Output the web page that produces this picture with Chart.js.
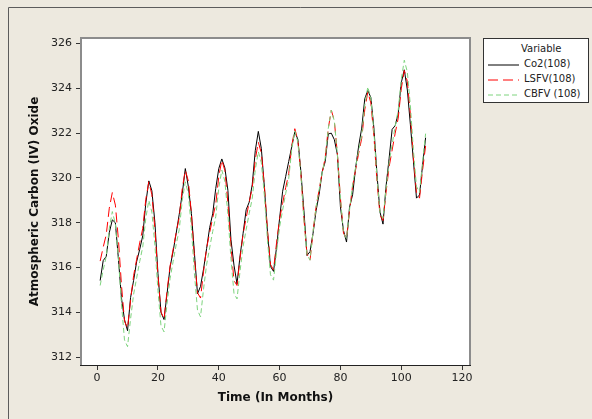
<!DOCTYPE html>
<html>
<head>
<meta charset="utf-8">
<script src="https://cdn.jsdelivr.net/npm/chart.js@4.4.0/dist/chart.umd.min.js"></script>
<style>
  html, body { margin: 0; padding: 0; background: #EDE9DF; }
  #wrap { position: relative; width: 592px; height: 419px; overflow: hidden; }
  #co2-chart { position: absolute; left: 0; top: 0; }
  #legend {
    position: absolute; left: 483px; top: 38px; width: 104px; height: 63px;
    background: #fff; border: 1px solid #333;
    font-family: "DejaVu Sans", sans-serif; font-size: 10px; color: #222;
  }
  #legend .title { position: absolute; left: 37px; top: 4px; line-height: 12px; }
  #legend .row { position: absolute; left: 4px; height: 14px; line-height: 14px; white-space: nowrap; }
  #legend svg { position: absolute; left: 0; top: 7px; }
  #legend .row span { position: absolute; left: 36px; top: 0; }
</style>
</head>
<body>
<div id="wrap">
  <canvas id="co2-chart" width="592" height="419"></canvas>
  <div id="legend"></div>
</div>
<script>
// Monthly series, months 1..108
const co2 = [
  315.42, 316.31, 316.50, 317.56, 318.13, 318.00, 316.39, 314.65, 313.68, 313.18, 314.66, 315.43,
  316.27, 316.81, 317.42, 318.87, 319.87, 319.43, 318.01, 315.74, 314.00, 313.68, 314.84, 316.03,
  316.73, 317.54, 318.38, 319.31, 320.42, 319.61, 318.42, 316.63, 314.83, 315.16, 315.94, 316.85,
  317.78, 318.40, 319.53, 320.42, 320.85, 320.45, 319.45, 317.25, 316.11, 315.27, 316.53, 317.53,
  318.58, 318.92, 319.70, 321.22, 322.08, 321.31, 319.58, 317.61, 316.05, 315.83, 316.91, 318.20,
  319.41, 320.07, 320.74, 321.40, 322.06, 321.73, 320.27, 318.54, 316.54, 316.71, 317.53, 318.55,
  319.27, 320.28, 320.73, 321.97, 322.00, 321.71, 321.05, 318.71, 317.66, 317.14, 318.70, 319.25,
  320.46, 321.43, 322.23, 323.54, 323.91, 323.59, 322.24, 320.20, 318.48, 317.94, 319.63, 320.87,
  322.17, 322.34, 322.88, 324.25, 324.83, 323.93, 322.38, 320.76, 319.10, 319.24, 320.56, 321.80
];

const lsfv = [
  316.29, 316.91, 317.47, 318.65, 319.35, 318.79, 317.26, 315.23, 313.61, 313.30, 314.54, 315.64,
  316.37, 317.10, 317.75, 319.04, 319.83, 319.26, 317.71, 315.66, 314.02, 313.70, 314.96, 316.07,
  316.82, 317.56, 318.24, 319.54, 320.35, 319.86, 318.40, 316.43, 314.88, 314.64, 315.83, 316.87,
  317.55, 318.22, 318.83, 320.06, 320.80, 320.33, 318.89, 316.95, 315.42, 315.20, 316.43, 317.50,
  318.22, 318.92, 319.56, 320.82, 321.60, 321.11, 319.65, 317.69, 316.14, 315.90, 317.11, 318.17,
  318.87, 319.57, 320.19, 321.44, 322.20, 321.68, 320.19, 318.18, 316.60, 316.33, 317.60, 318.72,
  319.48, 320.23, 320.91, 322.21, 323.03, 322.54, 321.07, 319.10, 317.54, 317.30, 318.55, 319.64,
  320.38, 321.11, 321.77, 323.05, 323.85, 323.35, 321.88, 319.91, 318.35, 318.10, 319.37, 320.49,
  321.25, 322.00, 322.67, 323.98, 324.80, 324.31, 322.85, 320.89, 319.34, 319.10, 320.34, 321.43
];

const cbfv = [
  315.20, 315.89, 316.50, 317.75, 318.50, 317.95, 316.42, 314.39, 312.77, 312.47, 313.71, 314.81,
  315.54, 316.27, 316.92, 318.20, 319.00, 318.48, 316.99, 314.98, 313.40, 313.13, 314.40, 315.52,
  316.28, 317.03, 317.70, 319.01, 319.83, 319.28, 317.75, 315.72, 314.10, 313.80, 315.05, 316.14,
  316.88, 317.61, 318.27, 319.55, 320.35, 319.85, 318.38, 316.41, 314.85, 314.60, 315.85, 316.95,
  317.69, 318.42, 319.08, 320.37, 321.17, 320.68, 319.21, 317.24, 315.68, 315.44, 316.70, 317.82,
  318.57, 319.31, 319.98, 321.29, 322.10, 321.60, 320.13, 318.14, 316.58, 316.33, 317.60, 318.72,
  319.48, 320.23, 320.90, 322.21, 323.03, 322.54, 321.07, 319.10, 317.54, 317.30, 318.58, 319.71,
  320.48, 321.23, 321.92, 323.24, 324.07, 323.55, 322.06, 320.05, 318.47, 318.20, 319.52, 320.69,
  321.50, 322.30, 323.03, 324.39, 325.26, 324.73, 323.23, 321.22, 319.63, 319.35, 320.71, 321.98
];

const months = co2.map((_, i) => i + 1);
const xTicks = [0, 20, 40, 60, 80, 100, 120];
const yTicks = [312, 314, 316, 318, 320, 322, 324, 326];

const seriesNames = ['Co2(108)', 'LSFV(108)', 'CBFV (108)'];
const seriesColors = ['#000000', '#FF0000', '#7ED47E'];
const seriesDash = [[], [10, 5], [5, 3]];

let co2Chart = null;

const framePlugin = {
  id: 'frame',
  beforeDraw(chart) {
    const { ctx, chartArea: a } = chart;
    ctx.save();
    ctx.fillStyle = '#EDE9DF';
    ctx.fillRect(0, 0, chart.width, chart.height);
    // window edge at top / left
    ctx.strokeStyle = '#5c5c5c';
    ctx.lineWidth = 1;
    ctx.beginPath();
    ctx.moveTo(8.5, chart.height);
    ctx.lineTo(8.5, 7.5);
    ctx.lineTo(chart.width, 7.5);
    ctx.stroke();
    ctx.fillStyle = '#ffffff';
    ctx.fillRect(a.left, a.top, a.right - a.left, a.bottom - a.top);
    ctx.restore();
  },
  afterDraw(chart) {
    const { ctx, chartArea: a } = chart;
    ctx.save();
    ctx.strokeStyle = '#8c8c8c';
    ctx.lineWidth = 2;
    ctx.beginPath();
    ctx.moveTo(a.left, a.bottom);
    ctx.lineTo(a.left, a.top);
    ctx.lineTo(a.right, a.top);
    ctx.lineTo(a.right, a.bottom);
    ctx.stroke();
    ctx.strokeStyle = '#222';
    ctx.lineWidth = 1;
    ctx.beginPath();
    ctx.moveTo(a.left - 1, a.bottom + 0.5);
    ctx.lineTo(a.right + 1, a.bottom + 0.5);
    ctx.stroke();
    ctx.restore();
  }
};

function createCo2Chart() {
  const ctx = document.getElementById('co2-chart');
  if (!ctx) return;

  if (co2Chart) {
    co2Chart.destroy();
  }

  const series = [co2, lsfv, cbfv];

  co2Chart = new Chart(ctx, {
    type: 'line',
    data: {
      labels: months,
      datasets: series.map((values, i) => ({
        label: seriesNames[i],
        data: values.map((v, j) => ({ x: months[j], y: v })),
        borderColor: seriesColors[i],
        borderWidth: 1,
        borderDash: seriesDash[i],
        pointRadius: 0,
        tension: 0,
        fill: false,
        order: 3 - i
      }))
    },
    options: {
      responsive: false,
      animation: false,
      devicePixelRatio: 1,
      layout: {
        padding: { left: 0, top: 38, right: 122, bottom: 0 }
      },
      plugins: {
        legend: { display: false },
        tooltip: { enabled: false }
      },
      scales: {
        x: {
          type: 'linear',
          min: -5.3,
          max: 122.6,
          afterFit(scale) { scale.height = 54; },
          afterBuildTicks(scale) { scale.ticks = xTicks.map(v => ({ value: v })); },
          grid: { drawOnChartArea: false, drawTicks: true, tickLength: 5, color: '#333' },
          border: { display: false },
          ticks: {
            padding: 2,
            maxRotation: 0,
            color: '#222',
            font: { family: 'DejaVu Sans', size: 11 }
          },
          title: {
            display: true,
            text: 'Time (In Months)',
            color: '#111',
            font: { family: 'DejaVu Sans', size: 12, weight: 'bold' },
            padding: { top: 0, bottom: 14 }
          }
        },
        y: {
          min: 311.65,
          max: 326.25,
          afterFit(scale) { scale.width = 81; },
          afterBuildTicks(scale) { scale.ticks = yTicks.map(v => ({ value: v })); },
          grid: { drawOnChartArea: false, drawTicks: true, tickLength: 5, color: '#333' },
          border: { display: false },
          ticks: {
            padding: 4,
            color: '#222',
            font: { family: 'DejaVu Sans', size: 11 }
          },
          title: {
            display: true,
            text: 'Atmospheric Carbon (IV) Oxide',
            color: '#111',
            font: { family: 'DejaVu Sans', size: 12, weight: 'bold' },
            padding: { top: 28, bottom: 0 }
          }
        }
      }
    },
    plugins: [framePlugin]
  });
}

function buildLegend() {
  const box = document.getElementById('legend');
  let html = '<div class="title">Variable</div>';
  seriesNames.forEach((name, i) => {
    const top = 18 + i * 15;
    html += '<div class="row" style="top:' + top + 'px">' +
      '<svg width="31" height="2"><line x1="0" y1="1" x2="31" y2="1" stroke="' + seriesColors[i] +
      '" stroke-width="1" stroke-dasharray="' + (seriesDash[i].join(',') || 'none') + '"/></svg>' +
      '<span>' + name + '</span></div>';
  });
  box.innerHTML = html;
}

createCo2Chart();
buildLegend();
</script>
</body>
</html>
